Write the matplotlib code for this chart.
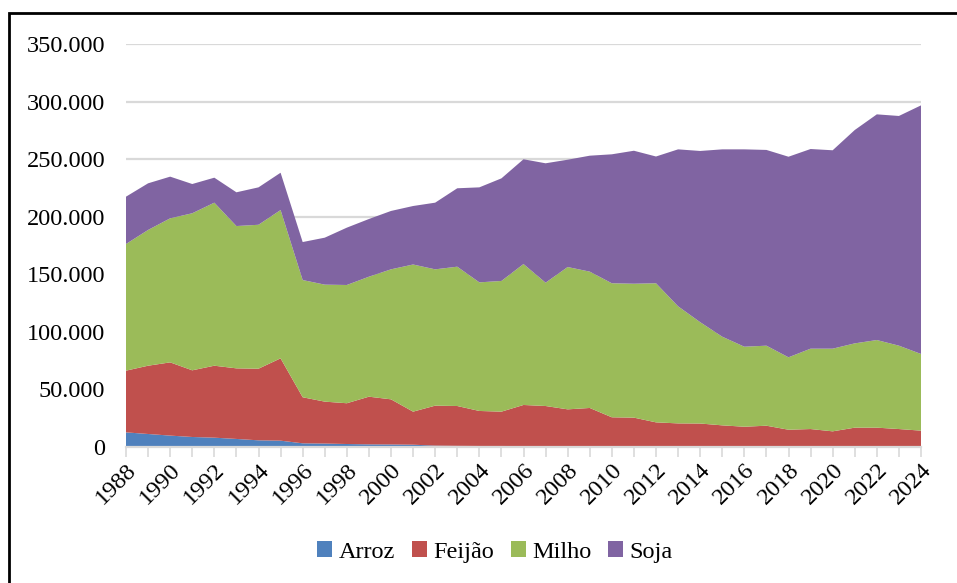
import numpy as np
import matplotlib
matplotlib.use("Agg")
import matplotlib.pyplot as plt
from matplotlib.patches import Rectangle
from matplotlib.ticker import FuncFormatter

plt.rcParams['font.family'] = ['Liberation Serif', 'DejaVu Serif']

# Data
years = list(range(1988, 2025))
arroz = [12.7, 11.3, 9.9, 8.7, 8.1, 7.0, 5.8, 5.5, 3.2, 3.0, 2.6, 2.3, 2.2, 2.0,
         1.2, 1.0, 0.9, 0.9, 0.8, 0.7, 0.7, 0.7, 0.6, 0.6, 0.6, 0.5, 0.5, 0.5,
         0.5, 0.5, 0.5, 0.5, 0.5, 0.5, 0.5, 0.5, 0.5]
feijao = [53.6, 59.3, 63.6, 57.9, 62.5, 61.3, 62.2, 71.5, 40.0, 36.4, 35.4, 41.4,
          39.2, 28.7, 34.7, 34.6, 30.4, 29.8, 35.7, 34.9, 32.0, 33.2, 25.2, 24.9,
          20.8, 20.0, 19.9, 18.3, 17.1, 18.0, 14.5, 15.1, 13.1, 16.3, 16.3, 15.1, 13.7]
milho = [110.0, 117.9, 125.1, 136.4, 141.6, 123.6, 125.0, 128.8, 101.8, 101.6,
         102.7, 104.2, 112.9, 127.8, 118.4, 121.0, 111.7, 113.5, 122.4, 107.1,
         123.6, 118.4, 116.4, 116.3, 120.8, 101.7, 88.0, 77.0, 69.5, 69.5, 62.9,
         69.8, 71.8, 73.2, 76.1, 72.4, 66.6]
soja = [41.1, 40.5, 36.2, 25.4, 21.7, 29.3, 32.5, 32.4, 33.0, 40.8, 49.8, 50.1,
        50.7, 50.8, 57.9, 68.1, 82.5, 89.1, 91.0, 103.7, 93.2, 100.7, 112.0, 115.5,
        110.1, 136.3, 148.7, 162.7, 171.4, 170.0, 174.2, 173.4, 172.3, 185.3, 196.0,
        199.5, 215.9]

labels = ['Arroz', 'Feijão', 'Milho', 'Soja']
colors = ['#4F81BD', '#C0504D', '#9BBB59', '#8064A2']

series = [np.array(s) * 1000 for s in (arroz, feijao, milho, soja)]

fig = plt.figure(figsize=(9.57, 5.83), dpi=100)
ax = fig.add_axes([126 / 957, 1 - 447 / 583, 795 / 957, 403 / 583])

ax.stackplot(years, *series, labels=labels, colors=colors, linewidth=0)

ax.set_xlim(1988, 2024)
ax.set_ylim(0, 350000)
ax.set_yticks(np.arange(0, 350001, 50000))
ax.yaxis.set_major_formatter(FuncFormatter(lambda v, p: f"{int(v):,}".replace(',', '.')))
ax.grid(axis='y', color='#d9d9d9', linewidth=1.6)
ax.set_axisbelow(True)

ax.set_xticks(years)
ax.set_xticklabels([str(y) if y % 2 == 0 else '' for y in years],
                   rotation=45, ha='right', rotation_mode='anchor')

for s in ['top', 'right', 'left']:
    ax.spines[s].set_visible(False)
ax.spines['bottom'].set_color('#d9d9d9')
ax.spines['bottom'].set_linewidth(1.6)
ax.tick_params(axis='y', length=0, labelsize=17.5, pad=15)
ax.tick_params(axis='x', length=7, width=1.2, color='#d9d9d9', labelsize=17.5, pad=2)

leg = fig.legend(loc='center', bbox_to_anchor=(495 / 957, 1 - 552 / 583), ncol=4,
                 frameon=False, fontsize=17.5, handlelength=0.62, handleheight=0.62,
                 handletextpad=0.25, columnspacing=0.7)

# outer border
fig.patches.append(Rectangle((9 / 957, -0.05), 1.2, 1 - 13 / 583 + 0.05,
                             transform=fig.transFigure, fill=False,
                             edgecolor='black', linewidth=2))

fig.savefig('out.png', dpi=100)
